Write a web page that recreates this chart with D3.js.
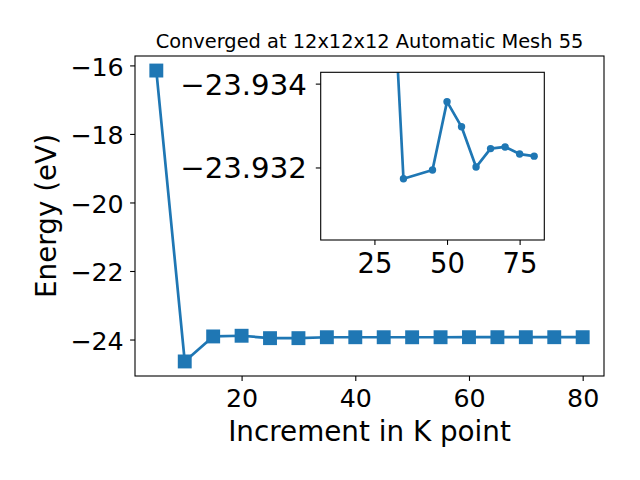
<!DOCTYPE html>
<html>
<head>
<meta charset="utf-8">
<script src="https://cdn.jsdelivr.net/npm/d3@7"></script>
<style>
  body { margin: 0; background: #fff; }
  text { font-family: "DejaVu Sans", sans-serif; fill: #000; }
</style>
</head>
<body>
<svg id="chart" width="640" height="480"></svg>
<script>
// ---- data ----
const kPoints = [5, 10, 15, 20, 25, 30, 35, 40, 45, 50, 55, 60, 65, 70, 75, 80];
const energies = [-16.15, -24.64, -23.91, -23.89, -23.96, -23.96, -23.933, -23.933, -23.933, -23.934, -23.933, -23.932, -23.932, -23.932, -23.932, -23.932];
const insetK = [30, 35, 45, 50, 55, 60, 65, 70, 75, 80];
const insetE = [-23.93844, -23.93173, -23.93194, -23.93357, -23.93297, -23.93201, -23.93245, -23.93249, -23.93232, -23.93227];
const mainXTicks = [20, 40, 60, 80];
const mainYTicks = [-16, -18, -20, -22, -24];
const insetXTicks = [25, 50, 75];
const insetYTicks = [-23.934, -23.932];
const insetXLimits = [6.5, 83.5];
const insetYLimits = [-23.93427, -23.93027]; // top -> bottom (inverted axis)
const titleText = "Converged at 12x12x12 Automatic Mesh 55";
const xLabelText = "Increment in K point";
const yLabelText = "Energy (eV)";

const color = "#1f77b4";
const svg = d3.select("#chart");

// ---- main axes ----
const M = {left: 135, right: 604, top: 56, bottom: 376};
const xMin = d3.min(kPoints), xMax = d3.max(kPoints), xPad = (xMax - xMin) * 0.05;
const yMin = d3.min(energies), yMax = d3.max(energies), yPad = (yMax - yMin) * 0.05;
const x = d3.scaleLinear().domain([xMin - xPad, xMax + xPad]).range([M.left, M.right]);
const y = d3.scaleLinear().domain([yMin - yPad, yMax + yPad]).range([M.bottom, M.top]);

const tickLen = 4.9;
const xAxis = d3.axisBottom(x).tickValues(mainXTicks).tickSize(tickLen).tickPadding(4.9).tickFormat(d3.format("d"));
const yAxis = d3.axisLeft(y).tickValues(mainYTicks).tickSize(tickLen).tickPadding(6.5).tickFormat(d => d3.format("d")(d).replace("-", "\u2212"));

const gx = svg.append("g").attr("transform", `translate(0,${M.bottom})`).call(xAxis);
gx.select(".domain").remove();
gx.selectAll("line").attr("stroke", "#000").attr("stroke-width", 1.1);
gx.selectAll("text").attr("font-size", 25.3).attr("font-family", "DejaVu Sans").attr("fill", "#000").attr("dy", "0.84em");

const gy = svg.append("g").attr("transform", `translate(${M.left},0)`).call(yAxis);
gy.select(".domain").remove();
gy.selectAll("line").attr("stroke", "#000").attr("stroke-width", 1.1);
gy.selectAll("text").attr("font-size", 25.3).attr("font-family", "DejaVu Sans").attr("fill", "#000").attr("dy", "0.38em");

const line = d3.line().x(d => x(d[0])).y(d => y(d[1]));
const mainData = kPoints.map((k, i) => [k, energies[i]]);
svg.append("path").datum(mainData).attr("d", line)
  .attr("fill", "none").attr("stroke", color).attr("stroke-width", 2.7).attr("stroke-linejoin", "round");
const ms = 13.9;
svg.append("g").selectAll("rect").data(mainData).join("rect")
  .attr("x", d => x(d[0]) - ms / 2).attr("y", d => y(d[1]) - ms / 2)
  .attr("width", ms).attr("height", ms).attr("fill", color);

svg.append("rect").attr("x", M.left).attr("y", M.top)
  .attr("width", M.right - M.left).attr("height", M.bottom - M.top)
  .attr("fill", "none").attr("stroke", "#000").attr("stroke-width", 1.1);

// title and labels
svg.append("text").attr("x", (M.left + M.right) / 2).attr("y", 48)
  .attr("text-anchor", "middle").attr("font-size", 19.4).text(titleText);
svg.append("text").attr("x", (M.left + M.right) / 2).attr("y", 441)
  .attr("text-anchor", "middle").attr("font-size", 27.8).text(xLabelText);
svg.append("text").attr("transform", `translate(56,${(M.top + M.bottom) / 2}) rotate(-90)`)
  .attr("text-anchor", "middle").attr("font-size", 27.8).text(yLabelText);

// ---- inset axes ----
const I = {left: 320.7, right: 544.3, top: 72.3, bottom: 240};
const ix = d3.scaleLinear().domain(insetXLimits).range([I.left, I.right]);
const iy = d3.scaleLinear().domain(insetYLimits).range([I.top, I.bottom]);

svg.append("rect").attr("x", I.left).attr("y", I.top)
  .attr("width", I.right - I.left).attr("height", I.bottom - I.top).attr("fill", "#fff");

svg.append("clipPath").attr("id", "insetClip").append("rect")
  .attr("x", I.left).attr("y", I.top).attr("width", I.right - I.left).attr("height", I.bottom - I.top);

const insetData = insetK.map((k, i) => [k, insetE[i]]);
const iline = d3.line().x(d => ix(d[0])).y(d => iy(d[1]));
const ig = svg.append("g").attr("clip-path", "url(#insetClip)");
ig.append("path").datum(insetData).attr("d", iline)
  .attr("fill", "none").attr("stroke", color).attr("stroke-width", 2.7).attr("stroke-linejoin", "round");
ig.selectAll("circle").data(insetData).join("circle")
  .attr("cx", d => ix(d[0])).attr("cy", d => iy(d[1])).attr("r", 3.7).attr("fill", color);

const ixAxis = d3.axisBottom(ix).tickValues(insetXTicks).tickSize(tickLen).tickPadding(4.9).tickFormat(d3.format("d"));
const iyAxis = d3.axisLeft(iy).tickValues(insetYTicks).tickSize(tickLen).tickPadding(9).tickFormat(d => d3.format(".3f")(d).replace("-", "\u2212"));
const igx = svg.append("g").attr("transform", `translate(0,${I.bottom})`).call(ixAxis);
igx.select(".domain").remove();
igx.selectAll("line").attr("stroke", "#000").attr("stroke-width", 1.1);
igx.selectAll("text").attr("font-size", 27.5).attr("font-family", "DejaVu Sans").attr("fill", "#000").attr("dy", "0.83em");
const igy = svg.append("g").attr("transform", `translate(${I.left},0)`).call(iyAxis);
igy.select(".domain").remove();
igy.selectAll("line").attr("stroke", "#000").attr("stroke-width", 1.1);
igy.selectAll("text").attr("font-size", 29.2).attr("font-family", "DejaVu Sans").attr("fill", "#000").attr("dy", "0.36em");

svg.append("rect").attr("x", I.left).attr("y", I.top)
  .attr("width", I.right - I.left).attr("height", I.bottom - I.top)
  .attr("fill", "none").attr("stroke", "#000").attr("stroke-width", 1.1);
</script>
</body>
</html>
